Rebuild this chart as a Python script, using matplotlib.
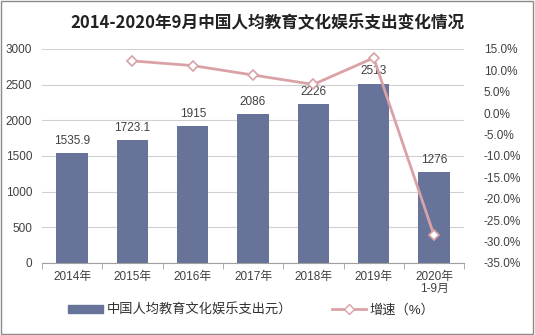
import matplotlib
matplotlib.use("Agg")
import matplotlib.pyplot as plt
from matplotlib.lines import Line2D
from matplotlib.patches import Rectangle
import numpy as np

plt.rcParams['font.family'] = ['Liberation Sans', 'Noto Sans CJK SC', 'DejaVu Sans']

categories = ["2014年", "2015年", "2016年", "2017年", "2018年", "2019年", "2020年\n1-9月"]
spending = [1535.9, 1723.1, 1915, 2086, 2226, 2513, 1276]
spending_labels = ["1535.9", "1723.1", "1915", "2086", "2226", "2513", "1276"]
growth_x = [1, 2, 3, 4, 5, 6]
growth = [12.2, 11.1, 8.9, 6.7, 12.9, -28.5]

bar_color = "#68739A"
line_color = "#D9A2A6"
text_color = "#404040"

fig = plt.figure(figsize=(5.35, 3.35), dpi=100)
fig.patches.append(Rectangle((0.002, 0.003), 0.995, 0.994, transform=fig.transFigure,
                             fill=False, edgecolor="#8A8A8A", linewidth=1.0))
ax = fig.add_axes([0.0785, 0.215, 0.789, 0.639])
x = np.arange(len(categories))
ax.bar(x, spending, width=0.52, color=bar_color, zorder=2)
for xi, v, lab in zip(x, spending, spending_labels):
    ax.text(xi, v + 90, lab, ha="center", va="bottom", fontsize=8.5, color=text_color)

ax.set_ylim(0, 3000)
ax.set_xlim(-0.5, len(categories) - 0.5)
ax.set_yticks(np.arange(0, 3001, 500))
ax.yaxis.grid(True, color="#D0D0D0", linewidth=0.8, zorder=0)
ax.set_axisbelow(True)
for s in ["top", "right", "left"]:
    ax.spines[s].set_visible(False)
ax.spines["bottom"].set_color("#A0A0A0")
ax.tick_params(axis="y", length=0, labelsize=8.5, labelcolor=text_color, pad=7)
ax.set_xticks(x)
ax.set_xticklabels(categories, fontsize=8.5, color=text_color, linespacing=0.95)
ax.tick_params(axis="x", length=0, pad=6)
ax.set_xticks(np.arange(-0.5, len(categories), 1), minor=True)
ax.tick_params(axis="x", which="minor", length=4, color="#A0A0A0")

ax2 = ax.twinx()
ax2.plot(growth_x, growth, color=line_color, linewidth=2, marker="D", markersize=5,
         markerfacecolor="white", markeredgecolor=line_color, markeredgewidth=1.2, zorder=3)
ax2.set_ylim(-35, 15)
ax2.set_yticks(np.arange(-35, 15.1, 5))
ax2.set_yticklabels([f"{v:.1f}%" for v in np.arange(-35, 15.1, 5)])
ax2.tick_params(axis="y", length=0, labelsize=8.5, labelcolor=text_color, pad=14)
for s in ["top", "right", "left", "bottom"]:
    ax2.spines[s].set_visible(False)

fig.text(0.5, 0.93, "2014-2020年9月中国人均教育文化娱乐支出变化情况", ha="center", va="center",
         fontsize=12, fontweight="bold", color="#222222", family=['Noto Sans CJK SC'])

handles = [Rectangle((0, 0), 1, 1, color=bar_color),
           Line2D([0], [0], color=line_color, linewidth=2, marker="D", markersize=5,
                  markerfacecolor="white", markeredgecolor=line_color)]
fig.legend(handles, ["中国人均教育文化娱乐支出元）", "增速（%）"], loc="center",
           bbox_to_anchor=(0.47, 0.075), ncol=2, frameon=False, fontsize=9.5,
           handlelength=2.6, handleheight=0.5, columnspacing=3, handletextpad=0.3,
           labelcolor="#303030")

fig.savefig("out.png", dpi=100)
